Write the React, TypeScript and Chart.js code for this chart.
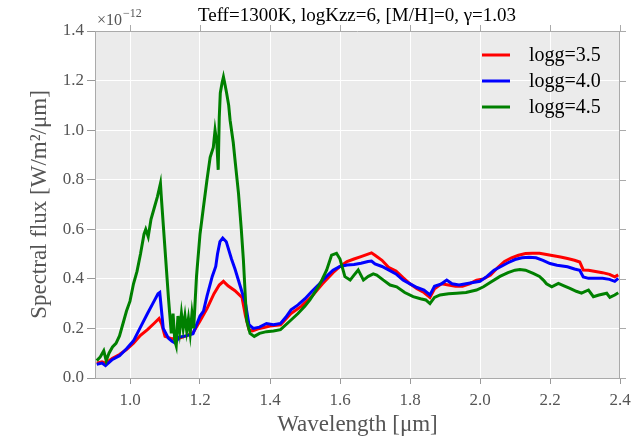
import React, { useEffect, useRef } from "react";
import { Chart, registerables } from "chart.js";
Chart.register(...registerables);

const TITLE = "Teff=1300K, logKzz=6, [M/H]=0, γ=1.03";
const X_LABEL = "Wavelength [μm]";
const Y_LABEL = "Spectral flux [W/m²/μm]";
const OFFSET_BASE = "×10";
const OFFSET_EXP = "−12";
const X_TICKS = [1.0, 1.2, 1.4, 1.6, 1.8, 2.0, 2.2, 2.4];
const Y_TICKS = [0.0, 0.2, 0.4, 0.6, 0.8, 1.0, 1.2, 1.4];
const LABELS = ["logg=3.5", "logg=4.0", "logg=4.5"];
const COLORS = ["#ff0000", "#0000ff", "#008000"];

// flux in units of 1e-12 W/m^2/um
const wlRed = [0.905,0.92,0.93,0.95,0.97,0.99,1.01,1.03,1.05,1.07,1.083,1.09,1.10,1.12,1.14,1.16,1.18,1.20,1.22,1.24,1.255,1.267,1.28,1.30,1.32,1.33,1.34,1.35,1.37,1.40,1.43,1.46,1.49,1.52,1.55,1.58,1.60,1.62,1.64,1.66,1.68,1.69,1.70,1.72,1.74,1.76,1.78,1.80,1.82,1.84,1.857,1.87,1.89,1.91,1.93,1.95,1.97,1.99,2.01,2.03,2.05,2.07,2.09,2.11,2.13,2.15,2.17,2.19,2.21,2.23,2.25,2.27,2.285,2.295,2.31,2.33,2.35,2.37,2.385,2.395];
const fluxRed = [0.06,0.065,0.06,0.08,0.095,0.115,0.14,0.172,0.195,0.222,0.24,0.22,0.168,0.158,0.16,0.17,0.182,0.23,0.28,0.34,0.375,0.39,0.372,0.352,0.325,0.25,0.195,0.19,0.2,0.21,0.215,0.26,0.29,0.33,0.38,0.425,0.45,0.47,0.48,0.49,0.5,0.505,0.495,0.475,0.445,0.432,0.405,0.38,0.36,0.345,0.325,0.36,0.38,0.375,0.37,0.37,0.38,0.395,0.4,0.415,0.445,0.47,0.485,0.495,0.502,0.503,0.503,0.498,0.493,0.488,0.482,0.475,0.468,0.436,0.435,0.43,0.425,0.418,0.408,0.416];

const wlBlue = [0.905,0.92,0.93,0.95,0.97,0.99,1.01,1.03,1.05,1.065,1.08,1.085,1.095,1.11,1.12,1.13,1.14,1.16,1.18,1.20,1.21,1.22,1.235,1.245,1.25,1.257,1.265,1.275,1.29,1.30,1.315,1.33,1.34,1.352,1.37,1.39,1.41,1.43,1.445,1.46,1.48,1.50,1.52,1.54,1.56,1.58,1.60,1.62,1.64,1.66,1.68,1.69,1.70,1.72,1.74,1.76,1.78,1.80,1.82,1.84,1.857,1.87,1.89,1.905,1.92,1.94,1.96,1.98,2.00,2.02,2.04,2.06,2.08,2.10,2.12,2.14,2.16,2.18,2.20,2.22,2.25,2.27,2.285,2.295,2.31,2.33,2.35,2.37,2.385,2.395];
const fluxBlue = [0.055,0.06,0.05,0.075,0.09,0.118,0.15,0.205,0.26,0.3,0.34,0.345,0.2,0.16,0.148,0.14,0.165,0.17,0.178,0.25,0.27,0.33,0.41,0.45,0.5,0.55,0.565,0.55,0.48,0.44,0.37,0.3,0.215,0.2,0.205,0.22,0.215,0.22,0.245,0.275,0.295,0.32,0.35,0.378,0.408,0.435,0.45,0.456,0.458,0.463,0.47,0.472,0.46,0.45,0.435,0.42,0.395,0.38,0.365,0.355,0.335,0.37,0.38,0.395,0.38,0.375,0.38,0.385,0.39,0.41,0.435,0.45,0.465,0.478,0.485,0.487,0.485,0.475,0.462,0.455,0.449,0.44,0.435,0.408,0.402,0.402,0.402,0.398,0.39,0.402];

const wlGreen = [0.905,0.915,0.925,0.932,0.94,0.95,0.96,0.97,0.98,0.99,1.00,1.01,1.02,1.03,1.04,1.045,1.052,1.06,1.07,1.078,1.083,1.087,1.09,1.10,1.11,1.118,1.123,1.128,1.132,1.137,1.142,1.147,1.152,1.157,1.162,1.167,1.172,1.177,1.182,1.19,1.20,1.209,1.22,1.229,1.238,1.243,1.248,1.252,1.255,1.258,1.263,1.267,1.272,1.276,1.282,1.286,1.295,1.30,1.31,1.318,1.324,1.333,1.343,1.355,1.37,1.39,1.41,1.43,1.457,1.48,1.50,1.514,1.53,1.543,1.562,1.576,1.59,1.60,1.614,1.629,1.64,1.652,1.667,1.681,1.695,1.705,1.724,1.743,1.762,1.785,1.809,1.83,1.845,1.857,1.87,1.886,1.91,1.933,1.96,1.99,2.01,2.029,2.057,2.08,2.10,2.114,2.13,2.152,2.17,2.181,2.19,2.205,2.224,2.24,2.257,2.275,2.29,2.31,2.324,2.34,2.362,2.371,2.385,2.395];
const fluxGreen = [0.07,0.085,0.11,0.07,0.1,0.125,0.14,0.17,0.22,0.27,0.31,0.38,0.43,0.5,0.58,0.6,0.57,0.64,0.69,0.73,0.76,0.785,0.72,0.52,0.32,0.18,0.26,0.15,0.13,0.25,0.19,0.26,0.2,0.25,0.19,0.24,0.18,0.26,0.2,0.41,0.58,0.68,0.8,0.89,0.93,1.0,0.95,0.84,1.05,1.15,1.19,1.215,1.18,1.15,1.1,1.04,0.95,0.88,0.745,0.6,0.476,0.234,0.18,0.168,0.18,0.187,0.19,0.195,0.23,0.26,0.29,0.315,0.35,0.38,0.436,0.496,0.503,0.48,0.409,0.395,0.415,0.436,0.395,0.41,0.42,0.415,0.395,0.375,0.368,0.345,0.328,0.32,0.315,0.3,0.325,0.335,0.34,0.342,0.345,0.355,0.368,0.385,0.41,0.425,0.435,0.438,0.435,0.422,0.41,0.395,0.38,0.368,0.382,0.372,0.362,0.35,0.342,0.355,0.328,0.335,0.342,0.325,0.335,0.344];

const SERIES = [
  { wl: wlRed, flux: fluxRed },
  { wl: wlBlue, flux: fluxBlue },
  { wl: wlGreen, flux: fluxGreen },
];

const SERIF = "'Liberation Serif', 'DejaVu Serif', serif";
const GRAY = "#555555";

const decor = {
  id: "decor",
  beforeDraw(chart: any) {
    const { ctx, chartArea: a } = chart;
    ctx.save();
    ctx.fillStyle = "#ebebeb";
    ctx.fillRect(a.left, a.top, a.right - a.left, a.bottom - a.top);
    ctx.restore();
  },
  afterDraw(chart: any) {
    const { ctx, chartArea: a, scales } = chart;
    ctx.save();
    ctx.strokeStyle = "#aaaaaa";
    ctx.lineWidth = 1;
    ctx.beginPath();
    ctx.moveTo(a.left, a.top + 0.5);
    ctx.lineTo(a.right, a.top + 0.5);
    ctx.moveTo(a.right - 0.5, a.top);
    ctx.lineTo(a.right - 0.5, a.bottom);
    X_TICKS.forEach((v) => {
      const px = Math.round(scales.x.getPixelForValue(v)) + 0.5;
      ctx.moveTo(px, a.top);
      ctx.lineTo(px, a.top - 6);
    });
    Y_TICKS.forEach((v) => {
      const py = Math.round(scales.y.getPixelForValue(v)) + 0.5;
      ctx.moveTo(a.right, py);
      ctx.lineTo(a.right + 6, py);
    });
    ctx.stroke();

    // title
    ctx.fillStyle = "#000";
    ctx.font = `19px ${SERIF}`;
    ctx.textAlign = "center";
    ctx.textBaseline = "middle";
    ctx.fillText(TITLE, 357, 16);

    // offset text
    ctx.fillStyle = GRAY;
    ctx.textAlign = "left";
    ctx.font = `16px ${SERIF}`;
    ctx.fillText(OFFSET_BASE, a.left + 2, 21);
    const w = ctx.measureText(OFFSET_BASE).width;
    ctx.font = `12px ${SERIF}`;
    ctx.fillText(OFFSET_EXP, a.left + 2 + w + 1, 14);

    // legend
    chart.data.datasets.forEach((ds: any, i: number) => {
      const y = 55 + i * 26;
      ctx.strokeStyle = ds.borderColor;
      ctx.lineWidth = 3;
      ctx.beginPath();
      ctx.moveTo(482, y);
      ctx.lineTo(510, y);
      ctx.stroke();
      ctx.fillStyle = "#000";
      ctx.font = `20px ${SERIF}`;
      ctx.textAlign = "left";
      ctx.textBaseline = "middle";
      ctx.fillText(ds.label, 529, y + 1);
    });
    ctx.restore();
  },
};

export default function App() {
  const ref = useRef<HTMLCanvasElement>(null);
  useEffect(() => {
    if (!ref.current) return;
    const datasets = SERIES.map((s, i) => ({
      label: LABELS[i],
      data: s.wl.map((x, j) => ({ x, y: s.flux[j] })),
      borderColor: COLORS[i],
      backgroundColor: COLORS[i],
      borderWidth: 3,
      pointRadius: 0,
      tension: 0,
      fill: false,
      order: 3 - i,
    }));
    const chart = new Chart(ref.current, {
      type: "line",
      data: { datasets },
      options: {
        animation: false,
        responsive: false,
        maintainAspectRatio: false,
        layout: { padding: { left: 0, top: 31, right: 24, bottom: 0 } },
        plugins: { legend: { display: false }, tooltip: { enabled: false } },
        scales: {
          x: {
            type: "linear",
            min: 0.9,
            max: 2.4,
            afterBuildTicks: (s: any) => {
              s.ticks = X_TICKS.map((v) => ({ value: v }));
            },
            afterFit: (s: any) => {
              s.height = 61;
            },
            grid: { color: "#ffffff", lineWidth: 1, tickColor: "#999999", tickLength: 6, drawTicks: true },
            border: { display: true, color: "#aaaaaa" },
            ticks: {
              color: GRAY,
              font: { family: SERIF, size: 17 },
              padding: 6,
              maxRotation: 0,
              autoSkip: false,
              callback: (v: any) => Number(v).toFixed(1),
            },
            title: {
              display: true,
              text: X_LABEL,
              color: GRAY,
              font: { family: SERIF, size: 23 },
              padding: { top: 0, bottom: 0 },
            },
          },
          y: {
            type: "linear",
            min: 0,
            max: 1.4,
            afterBuildTicks: (s: any) => {
              s.ticks = Y_TICKS.map((v) => ({ value: v }));
            },
            afterFit: (s: any) => {
              s.width = 95;
            },
            grid: { color: "#ffffff", lineWidth: 1, tickColor: "#999999", tickLength: 8, drawTicks: true },
            border: { display: true, color: "#aaaaaa" },
            ticks: {
              color: GRAY,
              font: { family: SERIF, size: 17 },
              padding: 3,
              autoSkip: false,
              callback: (v: any) => Number(v).toFixed(1),
            },
            title: {
              display: true,
              text: Y_LABEL,
              color: GRAY,
              font: { family: SERIF, size: 23 },
              padding: { top: 26, bottom: 0 },
            },
          },
        },
      },
      plugins: [decor],
    });
    return () => chart.destroy();
  }, []);
  return (
    <div style={{ position: "fixed", left: 0, top: 0, width: 644, height: 439, background: "#fff" }}>
      <canvas ref={ref} width={644} height={439} style={{ width: 644, height: 439, display: "block" }} />
    </div>
  );
}
